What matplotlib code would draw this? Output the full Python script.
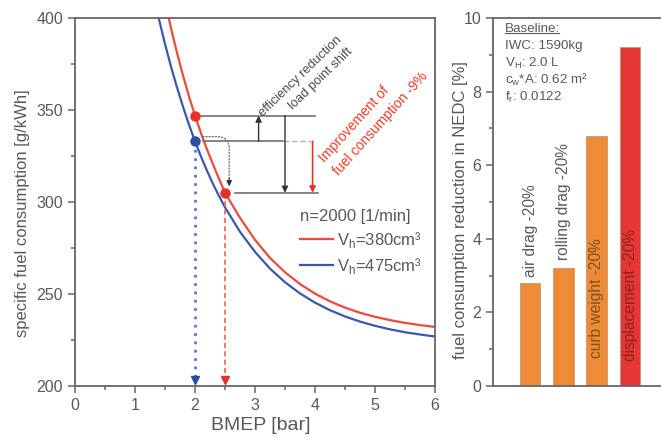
import matplotlib
matplotlib.use("Agg")
import matplotlib.pyplot as plt
from matplotlib.ticker import MultipleLocator

plt.rcParams["font.family"] = ["Liberation Sans", "DejaVu Sans"]
plt.rcParams["mathtext.fontset"] = "custom"
plt.rcParams["mathtext.rm"] = "Liberation Sans"

GRAY = "#585858"
RED = "#ee4a3a"
BLUE = "#3a58b0"
RED_PT = "#e8302a"
BLUE_PT = "#2a4ea8"

# ---- left panel: BSFC over BMEP at n = 2000 1/min ----
bmep_380 = [1.3, 1.4, 1.5, 1.6, 1.7, 1.8, 1.9, 2.0, 2.1, 2.2, 2.3, 2.4, 2.5,
            2.75, 3.0, 3.25, 3.5, 3.75, 4.0, 4.25, 4.5, 4.75, 5.0, 5.25, 5.5, 5.75, 6.0]
bsfc_380 = [442.2, 425.0, 409.1, 394.5, 381.1, 368.8, 357.4, 347.0, 337.4, 328.6, 320.5, 312.6, 305.0,
            291.4, 279.4, 269.6, 261.8, 255.4, 250.2, 246.0, 242.6, 239.8, 237.6, 235.8, 234.3, 233.1, 232.1]
bmep_475 = [1.2, 1.3, 1.4, 1.5, 1.6, 1.7, 1.8, 1.9, 2.0, 2.1, 2.2, 2.3, 2.4, 2.5,
            2.75, 3.0, 3.25, 3.5, 3.75, 4.0, 4.25, 4.5, 4.75, 5.0, 5.25, 5.5, 5.75, 6.0]
bsfc_475 = [429.2, 413.6, 399.3, 385.9, 373.6, 362.3, 351.8, 342.0, 333.0, 324.7, 317.0, 309.8, 303.3, 297.1,
            283.8, 272.9, 263.8, 256.4, 250.3, 245.3, 241.2, 237.8, 235.0, 232.7, 230.8, 229.2, 228.0, 226.9]

# operating points
op_large = (2.0, 333.0)        # 475 cm3 at 2 bar
op_small_same = (2.0, 347.0)   # 380 cm3 at 2 bar
op_small_shift = (2.5, 305.0)  # 380 cm3 at shifted load point

# reference levels for the bracket lines (x start, x end, y)
lvl_top = (2.1, 4.0, 347.0)
lvl_mid = (2.13, 3.47, 333.0)
lvl_mid_ext = (3.47, 3.94, 333.0)
lvl_bot = (2.67, 4.05, 305.0)
arrow_eff_x = 3.06
arrow_total_x = 3.5
arrow_impr_x = 3.96

# ---- right panel: NEDC fuel consumption reduction ----
measures = ["air drag -20%", "rolling drag -20%", "curb weight -20%", "displacement -20%"]
reduction = [2.8, 3.2, 6.8, 9.2]
bar_colors = ["#ef8b37", "#ef8b37", "#ef8b37", "#e53535"]
label_colors = [GRAY, GRAY, "#7a5418", "#8e2222"]
label_y = [2.95, 3.43, 0.77, 0.68]

baseline_lines = ["Baseline:", "IWC: 1590kg", r"V$_\mathregular{H}$: 2.0 L",
                  r"c$_\mathregular{w}$*A: 0.62 m²", r"f$_\mathregular{r}$: 0.0122"]

W, H = 661, 437
fig = plt.figure(figsize=(W / 100, H / 100), dpi=100)
ax1 = fig.add_axes([75 / W, 1 - 386 / H, 360 / W, 368 / H])
ax2 = fig.add_axes([493 / W, 1 - 386 / H, 168 / W, 368 / H])

for ax in (ax1, ax2):
    for s in ax.spines.values():
        s.set_color("#666666")
        s.set_linewidth(1.3)
    ax.tick_params(which="both", direction="out", colors="#666666", labelcolor=GRAY,
                   labelsize=11.5, width=1.1)
    ax.tick_params(which="major", length=5)
    ax.tick_params(which="minor", length=3)

# curves
l1, = ax1.plot(bmep_380, bsfc_380, color=RED, lw=1.6, label=r"V$_\mathregular{h}$=380cm³",
               solid_joinstyle="round")
l2, = ax1.plot(bmep_475, bsfc_475, color=BLUE, lw=1.6, label=r"V$_\mathregular{h}$=475cm³",
               solid_joinstyle="round")
ax1.set_xlim(0, 6)
ax1.set_ylim(200, 400)
ax1.xaxis.set_major_locator(MultipleLocator(1))
ax1.xaxis.set_minor_locator(MultipleLocator(0.5))
ax1.yaxis.set_major_locator(MultipleLocator(50))
ax1.yaxis.set_minor_locator(MultipleLocator(25))
ax1.tick_params(top=False, right=False)

# projection lines down to the BMEP axis
ax1.plot([op_large[0], op_large[0]], [op_large[1], 204], ls=(0, (1, 2)), color="#5a78d0", lw=2.0)
ax1.plot([op_large[0]], [203.5], marker="v", color=BLUE_PT, ms=6, clip_on=False)
ax1.plot([op_small_shift[0], op_small_shift[0]], [op_small_shift[1], 204], ls=(0, (3, 2)),
         color="#f06050", lw=1.2)
ax1.plot([op_small_shift[0]], [203.5], marker="v", color=RED_PT, ms=6, clip_on=False)

# bracket lines
ax1.plot(lvl_top[:2], [lvl_top[2]] * 2, color="#707070", lw=1.2)
ax1.plot(lvl_mid[:2], [lvl_mid[2]] * 2, color="#707070", lw=1.2)
ax1.plot(lvl_mid_ext[:2], [lvl_mid_ext[2]] * 2, color="#b0b0b0", lw=1.0, ls=(0, (4, 2)))
ax1.plot(lvl_bot[:2], [lvl_bot[2]] * 2, color="#707070", lw=1.2)

arr = dict(arrowstyle="-|>", color="#333333", lw=1.0, mutation_scale=9, shrinkA=0, shrinkB=0)
ax1.annotate("", xy=(arrow_eff_x, lvl_top[2]), xytext=(arrow_eff_x, lvl_mid[2]), arrowprops=arr)
ax1.annotate("", xy=(arrow_total_x, lvl_bot[2]), xytext=(arrow_total_x, lvl_top[2]), arrowprops=arr)
arr_red = dict(arr, color="#e8302a", lw=1.2)
ax1.annotate("", xy=(arrow_impr_x, lvl_bot[2]), xytext=(arrow_impr_x, lvl_mid[2]), arrowprops=arr_red)

# dotted load point shift path
ax1.annotate("", xy=(2.57, 311.5), xytext=(2.13, 335.5),
             arrowprops=dict(arrowstyle="-", color="#666666", lw=0.9, ls=(0, (1, 1.5)),
                             connectionstyle="angle,angleA=0,angleB=90,rad=12",
                             shrinkA=0, shrinkB=0))
ax1.annotate("", xy=(2.57, 308.5), xytext=(2.57, 313),
             arrowprops=dict(arrowstyle="-|>", color="#333333", lw=0.8, mutation_scale=8,
                             shrinkA=0, shrinkB=0))

# operating point markers
ax1.plot(*op_small_same, "o", color=RED_PT, ms=6.5, zorder=5)
ax1.plot(*op_small_shift, "o", color=RED_PT, ms=6.5, zorder=5)
ax1.plot(*op_large, "o", color=BLUE_PT, ms=6.5, zorder=5)

# annotations
ax1.text(3.85, 365, "efficiency reduction\nload point shift", rotation=44, rotation_mode="anchor",
         ha="center", va="center", multialignment="right", fontsize=9.3, color="#4a4a4a",
         linespacing=1.4)
ax1.text(4.98, 346, "Improvement of\nfuel consumption -9%", rotation=48, rotation_mode="anchor",
         ha="center", va="center", multialignment="left", fontsize=10, color="#ee3a2a",
         linespacing=1.45)

leg = ax1.legend(handles=[l1, l2], title="n=2000 [1/min]", loc="upper left",
                 bbox_to_anchor=(0.625, 0.48), frameon=False, fontsize=12, title_fontsize=12,
                 handlelength=2.0, handletextpad=0.2, borderpad=0, borderaxespad=0,
                 labelspacing=0.35, alignment="left")
leg.get_title().set_color(GRAY)
for t in leg.get_texts():
    t.set_color(GRAY)

ax1.set_xlabel("BMEP [bar]", fontsize=14, color=GRAY)
ax1.set_ylabel("specific fuel consumption [g/kWh]", fontsize=12, color=GRAY)
ax1.xaxis.set_label_coords(0.517, -0.083)
ax1.yaxis.set_label_coords(-0.125, 0.47)

# right panel
xpos = list(range(len(reduction)))
ax2.bar(xpos, reduction, width=0.62, color=bar_colors, edgecolor="#c09a7a", linewidth=0.6)
for x, lab, c, y in zip(xpos, measures, label_colors, label_y):
    ax2.text(x, y, lab, rotation=90, ha="center", va="bottom", fontsize=11.2, color=c)
ax2.set_xlim(-1.11, 3.93)
ax2.set_ylim(0, 10)
ax2.yaxis.set_major_locator(MultipleLocator(2))
ax2.yaxis.set_minor_locator(MultipleLocator(1))
ax2.set_xticks([])
ax2.spines["right"].set_visible(False)
ax2.tick_params(top=False, right=False, bottom=False)
ax2.set_ylabel("fuel consumption reduction in NEDC [%]", fontsize=12, color=GRAY)
ax2.yaxis.set_label_coords(-0.149, 0.478)

ys = [0.9755, 0.9293, 0.8832, 0.837, 0.7908]
for line, y in zip(baseline_lines, ys):
    ax2.text(0.071, y, line, transform=ax2.transAxes, ha="left", va="center_baseline",
             fontsize=9.6, color=GRAY)
# underline for the heading
ax2.plot([0.071, 0.39], [0.9605, 0.9605], transform=ax2.transAxes, color=GRAY, lw=0.8)

fig.savefig("out.png", dpi=100)
